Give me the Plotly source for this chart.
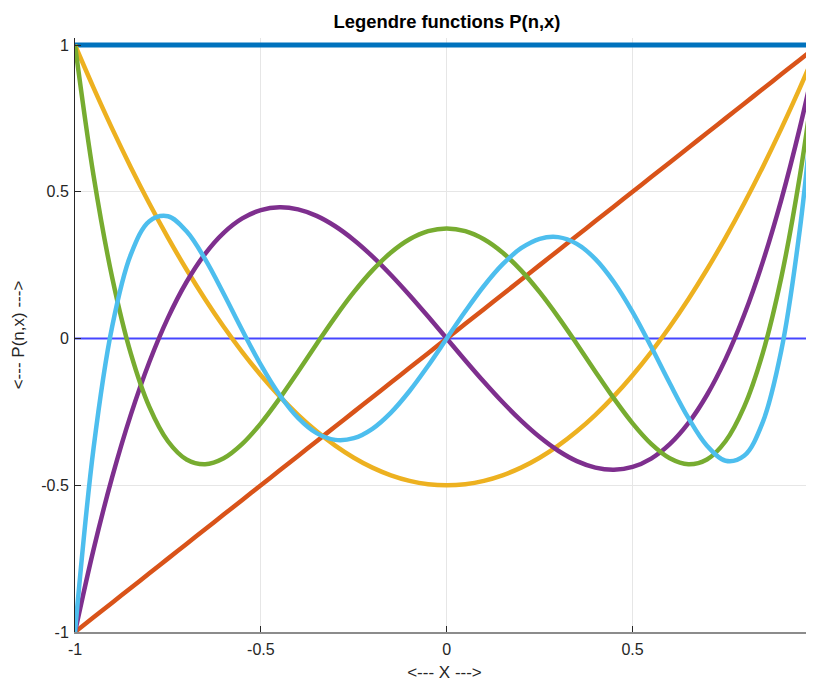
import plotly.graph_objects as go

# x samples
x_vals = [-1.0, -0.95, -0.9, -0.85, -0.8, -0.75, -0.7, -0.65, -0.6, -0.55, -0.5,
          -0.45, -0.4, -0.35, -0.3, -0.25, -0.2, -0.15, -0.1, -0.05,
          0.0, 0.05, 0.1, 0.15, 0.2, 0.25, 0.3, 0.35, 0.4, 0.45, 0.5, 0.55, 0.6,
          0.65, 0.7, 0.75, 0.8, 0.85, 0.9, 0.95, 0.99]

p0 = [1.0] * 41
p1 = [-1.0, -0.95, -0.9, -0.85, -0.8, -0.75, -0.7, -0.65, -0.6, -0.55, -0.5,
      -0.45, -0.4, -0.35, -0.3, -0.25, -0.2, -0.15, -0.1, -0.05,
      0.0, 0.05, 0.1, 0.15, 0.2, 0.25, 0.3, 0.35, 0.4, 0.45, 0.5, 0.55, 0.6,
      0.65, 0.7, 0.75, 0.8, 0.85, 0.9, 0.95, 0.99]
p2 = [1.0, 0.85375, 0.715, 0.58375, 0.46, 0.34375, 0.235, 0.13375, 0.04, -0.04625,
      -0.125, -0.19625, -0.26, -0.31625, -0.365, -0.40625, -0.44, -0.46625, -0.485,
      -0.49625, -0.5, -0.49625, -0.485, -0.46625, -0.44, -0.40625, -0.365, -0.31625,
      -0.26, -0.19625, -0.125, -0.04625, 0.04, 0.13375, 0.235, 0.34375, 0.46,
      0.58375, 0.715, 0.85375, 0.97015]
p3 = [-1.0, -0.71844, -0.4725, -0.26031, -0.08, 0.07031, 0.1925, 0.28844, 0.36,
      0.40906, 0.4375, 0.44719, 0.44, 0.41781, 0.3825, 0.33594, 0.28, 0.21656,
      0.1475, 0.07469, 0.0, -0.07469, -0.1475, -0.21656, -0.28, -0.33594, -0.3825,
      -0.41781, -0.44, -0.44719, -0.4375, -0.40906, -0.36, -0.28844, -0.1925,
      -0.07031, 0.08, 0.26031, 0.4725, 0.71844, 0.94075]
p4 = [1.0, 0.55409, 0.20794, -0.0506, -0.233, -0.3501, -0.41206, -0.42841, -0.408,
      -0.35904, -0.28906, -0.20497, -0.113, -0.01872, 0.07294, 0.15771, 0.232,
      0.29284, 0.33794, 0.36565, 0.375, 0.36565, 0.33794, 0.29284, 0.232, 0.15771,
      0.07294, -0.01872, -0.113, -0.20497, -0.28906, -0.35904, -0.408, -0.42841,
      -0.41206, -0.3501, -0.233, -0.0506, 0.20794, 0.55409, 0.90223]
p5 = [-1.0, -0.37274, 0.04114, 0.28566, 0.39952, 0.41638, 0.3652, 0.27049, 0.15264,
      0.02819, -0.08984, -0.19172, -0.27064, -0.32245, -0.34539, -0.33972, -0.30752,
      -0.25232, -0.17883, -0.09266, 0.0, 0.09266, 0.17883, 0.25232, 0.30752,
      0.33972, 0.34539, 0.32245, 0.27064, 0.19172, 0.08984, -0.02819, -0.15264,
      -0.27049, -0.3652, -0.41638, -0.39952, -0.28566, -0.04114, 0.37274, 0.85518]

zero_x = [-1.0, 0.99]
zero_y = [0.0, 0.0]

series = [p0, p1, p2, p3, p4, p5]
colors = ["#0072BD", "#D95319", "#EDB120", "#7E2F8E", "#77AC30", "#4DBEEE"]
widths = [5, 4.5, 4.5, 4.5, 4.5, 4.5]

x_ticks = [-1, -0.5, 0, 0.5]
x_ticklabels = ["-1", "-0.5", "0", "0.5"]
y_ticks = [-1, -0.5, 0, 0.5, 1]
y_ticklabels = ["-1", "-0.5", "0", "0.5", "1"]

# page body has an 8px default margin; figure sized to fill the rest of the window
W, H = 806, 676
fig = go.Figure()
fig.add_trace(go.Scatter(x=zero_x, y=zero_y, mode="lines",
                         line=dict(color="#4646ff", width=2), showlegend=False,
                         hoverinfo="skip"))
for s, c, w in zip(series, colors, widths):
    fig.add_trace(go.Scatter(x=x_vals, y=s, mode="lines",
                             line=dict(color=c, width=w, shape="spline", smoothing=1.0),
                             showlegend=False))

fig.update_layout(
    width=W, height=H,
    margin=dict(l=67, r=0, t=30, b=52, autoexpand=False),
    paper_bgcolor="white", plot_bgcolor="white",
    font=dict(family="Liberation Sans, Arial, sans-serif", size=16, color="#262626"),
    title=dict(text="<b>Legendre functions P(n,x)</b>", x=439 / W, xref="container",
               xanchor="center", y=1 - 14 / H, yref="container", yanchor="middle",
               font=dict(size=18.4, color="#000000")),
    showlegend=False,
)
fig.update_xaxes(range=[-1, 0.988], tickvals=x_ticks, ticktext=x_ticklabels,
                 automargin=False, ticklabelstandoff=2,
                 showgrid=True, gridcolor="#e6e6e6", gridwidth=1,
                 zeroline=False, showline=True, linecolor="#8c8c8c", linewidth=1.5,
                 ticks="inside", ticklen=6, tickcolor="#262626",
                 title=dict(text="<--- X --->", standoff=9, font=dict(size=17)))
fig.update_yaxes(range=[-1, 1.02385], tickvals=y_ticks, ticktext=y_ticklabels,
                 automargin=False, ticklabelstandoff=2,
                 showgrid=True, gridcolor="#e6e6e6", gridwidth=1,
                 zeroline=False, showline=True, linecolor="#262626", linewidth=1,
                 ticks="inside", ticklen=6, tickcolor="#262626",
                 title=dict(text="<--- P(n,x) --->", standoff=12, font=dict(size=17)))

fig.write_html("out.html")
